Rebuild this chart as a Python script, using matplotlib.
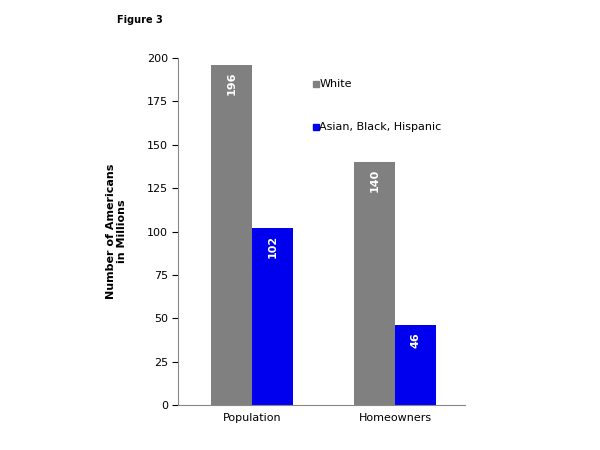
import matplotlib
matplotlib.use("Agg")
import matplotlib.pyplot as plt
import numpy as np

categories = ["Population", "Homeowners"]
white = [196, 140]
minority = [102, 46]
series_names = ["White", "Asian, Black, Hispanic"]
yticks = [0, 25, 50, 75, 100, 125, 150, 175, 200]

fig = plt.figure(figsize=(6, 4.5), dpi=100)
ax = fig.add_axes([0.297, 0.1, 0.478, 0.771])
x = np.arange(len(categories))
w = 0.287
b1 = ax.bar(x - w/2, white, w, color="#808080", label=series_names[0])
b2 = ax.bar(x + w/2, minority, w, color="#0000ee", label=series_names[1])
for bars in (b1, b2):
    for r in bars:
        ax.text(r.get_x() + r.get_width()/2, r.get_height() - 4, f"{int(r.get_height())}",
                rotation=90, ha="center", va="top", color="white", fontsize=8, fontweight="bold")
ax.set_xlim(-0.517, 1.49)
ax.set_ylim(0, 200)
ax.set_yticks(yticks)
ax.set_xticks(x)
ax.set_xticklabels(categories, fontsize=8)
ax.tick_params(axis="y", labelsize=8, direction="out", length=4)
ax.tick_params(axis="x", length=0, pad=6)
for s in ["top", "right"]:
    ax.spines[s].set_visible(False)
ax.spines["left"].set_color("#888888")
ax.spines["bottom"].set_color("#888888")
ax.set_ylabel("Number of Americans\nin Millions", fontsize=8, fontweight="bold", labelpad=14)
ax.text(0.47, 185, series_names[0], fontsize=8, va="center")
ax.text(0.47, 160, series_names[1], fontsize=8, va="center")
ax.plot([0.45], [185], marker="s", color="#808080", markersize=5)
ax.plot([0.45], [160], marker="s", color="#0000ee", markersize=5)
fig.text(0.195, 0.955, "Figure 3", fontsize=7, fontweight="bold", va="center")
fig.savefig("out.png", dpi=100)
